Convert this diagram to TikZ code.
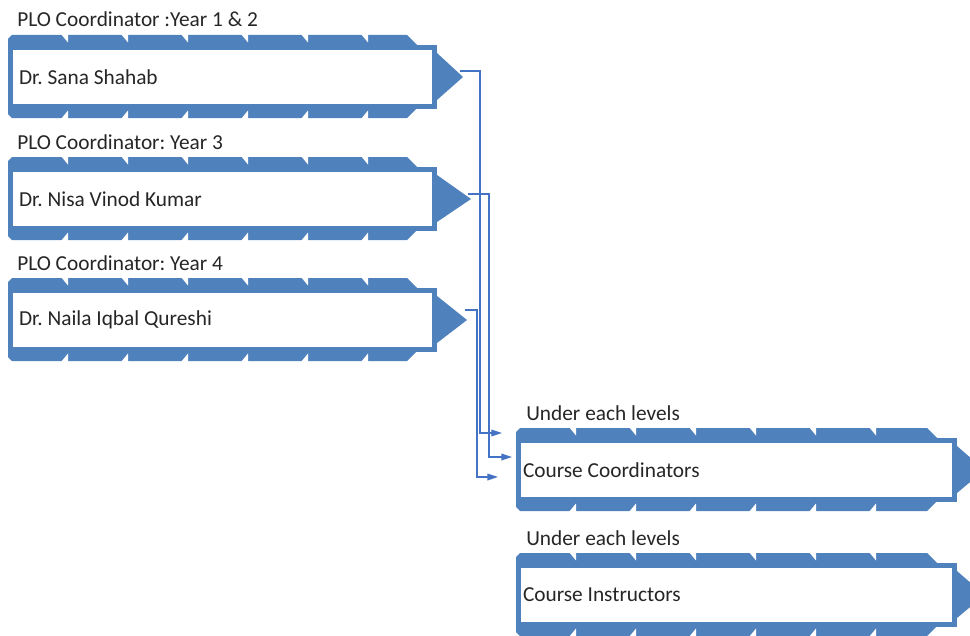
\documentclass[tikz,border=0pt]{standalone}
\usepackage{fontspec}
\setmainfont{Carlito}
\usetikzlibrary{positioning, arrows.meta, calc}
\definecolor{panelblue}{RGB}{79,129,189}
\definecolor{wire}{RGB}{68,114,196}
\definecolor{ink}{RGB}{38,38,38}

% chevron bands, notches and the pointer of one panel
% #1 node, #2 pointer length, #3 last notch
\newcommand{\chevrons}[3]{%
  \fill[panelblue] ($(#1.north west)+(-2.5,-8.5)$) -- ++(4,-4) -- ($(#1.north east)+(-27.5,-12.5)$) -- ++(10,10) -- ($(#1.north west)+(-2.5,-2.5)$) -- cycle;
  \fill[panelblue] ($(#1.south west)+(-2.5,7.5)$) -- ++(4,4) -- ($(#1.south east)+(-27.5,11.5)$) -- ++(10,-10) -- ($(#1.south west)+(-2.5,1.5)$) -- cycle;
  \foreach \k in {0,...,#3} {
    \fill[white] ($(#1.north west)+({50.5+60*\k},-13.5)$) -- ++(7,0) -- ++(0,8.5) -- cycle;
    \fill[white] ($(#1.south west)+({50.5+60*\k},12.5)$) -- ++(7,0) -- ++(0,-8.5) -- cycle;
  }
  \fill[panelblue] ($(#1.north east)+(2.5,5.5)$) -- ($(#1.east)+(#2,0)$) -- ($(#1.south east)+(2.5,-6.5)$) -- cycle;
}

\begin{document}
\begin{tikzpicture}[
    x=0.75pt, y=-0.75pt,
    every node/.style={font=\fontsize{16}{19}\selectfont\frenchspacing, text=ink},
    lead/.style={rectangle, draw=panelblue, fill=white, line width=3.75pt, outer sep=0pt, minimum width=318pt, minimum height=44.25pt, text width=305.25pt, inner xsep=6.375pt, inner ysep=0pt, align=flush left, anchor=west},
    level/.style={lead, minimum width=327pt, text width=320.25pt, inner xsep=3.375pt},
    caption/.style={anchor=base west, inner sep=0pt},
    link/.style={draw=wire, line width=1.1pt, -{Triangle[length=8pt, width=5pt]}}
    ]
    \useasboundingbox (0,0) rectangle (970,635);
    \clip (0,0) rectangle (970,635);

    % PLO coordinators
    \node[caption] (yr12) at (17,27) {PLO Coordinator :Year 1 \& 2};
    \node[lead] (sana) at (10.5,77) {Dr. Sana Shahab};
    \chevrons{sana}{28.5}{5}

    \node[caption] (yr3) at (17,149) {PLO Coordinator: Year 3};
    \node[lead] (nisa) at (10.5,199) {Dr. Nisa Vinod Kumar};
    \chevrons{nisa}{36.5}{5}

    \node[caption] (yr4) at (17,270) {PLO Coordinator: Year 4};
    \node[lead] (naila) at (10.5,320) {Dr. Naila Iqbal Qureshi};
    \chevrons{naila}{32.5}{5}

    % course levels
    \node[caption] (lvl1) at (526,420) {Under each levels};
    \node[level] (coord) at (518.5,470) {Course Coordinators};
    \chevrons{coord}{30}{5}

    \node[caption] (lvl2) at (526,545) {Under each levels};
    \node[level] (instr) at (518.5,595) {Course Instructors};
    \chevrons{instr}{30}{5}

    % arrow ends
    \coordinate (in1) at ($(coord.west)+(-16.5,-37)$);
    \coordinate (in2) at ($(coord.west)+(-6.5,-13)$);
    \coordinate (in3) at ($(coord.west)+(-20.5,7)$);

    % Arrows
    \draw[link] ($(sana.east)+(25.5,-6)$) -- ++(20,0) |- (in1);
    \draw[link] ($(nisa.east)+(33.5,-5)$) -- ++(21,0) |- (in2);
    \draw[link] ($(naila.east)+(30.5,-10)$) -- ++(12,0) |- (in3);

\end{tikzpicture}
\end{document}
